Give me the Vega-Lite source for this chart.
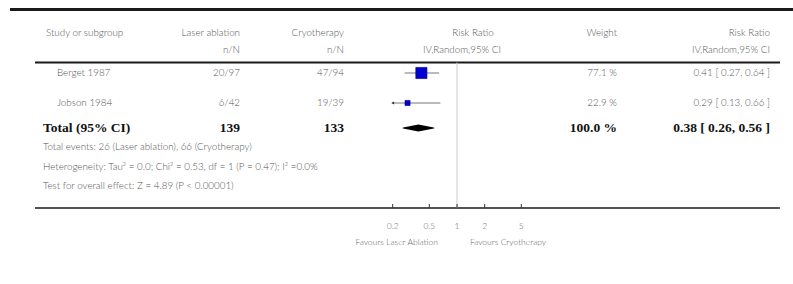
{
  "$schema": "https://vega.github.io/schema/vega-lite/v6.json",
  "width": 793,
  "height": 284,
  "padding": 0,
  "autosize": {"type": "none"},
  "background": "white",
  "config": {"view": {"stroke": null}},
  "datasets": {
    "cells": [
      {"line": 0, "col": 2, "text": "Study or subgroup"},
      {"line": 0, "col": 5, "text": "Laser ablation"},
      {"line": 0, "col": 6, "text": "Cryotherapy"},
      {"line": 0, "col": 8, "text": "Risk Ratio"},
      {"line": 0, "col": 9, "text": "Weight"},
      {"line": 0, "col": 10, "text": "Risk Ratio"},
      {"line": 1, "col": 5, "text": "n/N"},
      {"line": 1, "col": 6, "text": "n/N"},
      {"line": 1, "col": 7, "text": "IV,Random,95% CI"},
      {"line": 1, "col": 10, "text": "IV,Random,95% CI"},
      {"line": 3, "col": 4, "text": "Berget 1987"},
      {"line": 3, "col": 5, "text": "20/97"},
      {"line": 3, "col": 6, "text": "47/94"},
      {"line": 3, "col": 9, "text": "77.1 %"},
      {"line": 3, "col": 10, "text": "0.41 [ 0.27, 0.64 ]"},
      {"line": 4, "col": 4, "text": "Jobson 1984"},
      {"line": 4, "col": 5, "text": "6/42"},
      {"line": 4, "col": 6, "text": "19/39"},
      {"line": 4, "col": 9, "text": "22.9 %"},
      {"line": 4, "col": 10, "text": "0.29 [ 0.13, 0.66 ]"},
      {"line": 5, "col": 3, "text": "Total (95% CI)"},
      {"line": 5, "col": 5, "text": "139"},
      {"line": 5, "col": 6, "text": "133"},
      {"line": 5, "col": 9, "text": "100.0 %"},
      {"line": 5, "col": 10, "text": "0.38 [ 0.26, 0.56 ]"},
      {"line": 6, "col": 3, "text": "Total events: 26 (Laser ablation), 66 (Cryotherapy)"},
      {"line": 7, "col": 3, "text": "Heterogeneity: Tau² = 0.0; Chi² = 0.53, df = 1 (P = 0.47); I² =0.0%"},
      {"line": 8, "col": 3, "text": "Test for overall effect: Z = 4.89 (P < 0.00001)"}
    ],
    "studies": [
      {"line": 3, "study": "Berget 1987", "rr": 0.41, "lo": 0.27, "hi": 0.64, "weight": 77.1},
      {"line": 4, "study": "Jobson 1984", "rr": 0.29, "lo": 0.13, "hi": 0.66, "weight": 22.9}
    ],
    "total": [
      {"line": 5, "study": "Total (95% CI)", "rr": 0.38, "lo": 0.26, "hi": 0.56}
    ],
    "ticks": [
      {"v": 0.2, "label": "0.2"},
      {"v": 0.5, "label": "0.5"},
      {"v": 1, "label": "1"},
      {"v": 2, "label": "2"},
      {"v": 5, "label": "5"}
    ],
    "favours": [
      {"label": "Favours Laser Ablation", "side": "left", "v": 1},
      {"label": "Favours Cryotherapy", "side": "right", "v": 1}
    ],
    "rules": [
      {"rule": "top", "line": -1, "from": 0, "to": 12},
      {"rule": "header", "line": 2, "from": 1, "to": 11},
      {"rule": "bottom", "line": 9, "from": 1, "to": 11}
    ]
  },
  "layer": [
    {
      "data": {"name": "rules"},
      "mark": {"type": "rule", "color": "#1a1a1a"},
      "encoding": {
        "x": {"field": "from", "type": "quantitative", "axis": null,
          "scale": {"type": "linear", "zero": false, "nice": false, "domain": [0,1,2,3,4,5,6,7,8,9,10,11,12], "range": [10,35,46,43,57,240,344,462,473,617,770,780,793]}},
        "x2": {"field": "to"},
        "y": {"field": "line", "type": "quantitative", "axis": null,
          "scale": {"type": "linear", "zero": false, "nice": false, "domain": [-1,0,1,2,3,4,5,6,7,8,9,10,11], "range": [9.5,33,50,62.5,73,103,128,147,167,186,208,226,242]}},
        "strokeWidth": {"field": "rule", "type": "nominal", "legend": null,
          "scale": {"domain": ["top", "header", "bottom"], "range": [3, 1.3, 2]}}
      }
    },
    {
      "data": {"name": "ticks"},
      "transform": [{"filter": "datum.v === 1"}],
      "mark": {"type": "rule", "color": "#cccccc", "strokeWidth": 1},
      "encoding": {
        "x": {"field": "v", "type": "quantitative", "axis": null,
          "scale": {"type": "log", "domain": [0.2, 5], "range": [392.7, 521.3], "nice": false, "clamp": true}},
        "y": {"datum": 2, "type": "quantitative", "axis": null,
          "scale": {"type": "linear", "zero": false, "nice": false, "domain": [-1,0,1,2,3,4,5,6,7,8,9,10,11], "range": [9.5,33,50,62.5,73,103,128,147,167,186,208,226,242]}},
        "y2": {"datum": 9}
      }
    },
    {
      "data": {"name": "studies"},
      "mark": {"type": "rule", "color": "#777777", "strokeWidth": 1},
      "encoding": {
        "x": {"field": "lo", "type": "quantitative", "axis": null,
          "scale": {"type": "log", "domain": [0.2, 5], "range": [392.7, 521.3], "nice": false, "clamp": true}},
        "x2": {"field": "hi"},
        "y": {"field": "line", "type": "quantitative", "axis": null,
          "scale": {"type": "linear", "zero": false, "nice": false, "domain": [-1,0,1,2,3,4,5,6,7,8,9,10,11], "range": [9.5,33,50,62.5,73,103,128,147,167,186,208,226,242]}}
      }
    },
    {
      "data": {"name": "studies"},
      "transform": [{"filter": "datum.lo < 0.2"}],
      "mark": {"type": "point", "shape": "triangle-left", "filled": true, "color": "#333333", "size": 10, "opacity": 1},
      "encoding": {
        "x": {"field": "lo", "type": "quantitative", "axis": null,
          "scale": {"type": "log", "domain": [0.2, 5], "range": [392.7, 521.3], "nice": false, "clamp": true}},
        "y": {"field": "line", "type": "quantitative", "axis": null,
          "scale": {"type": "linear", "zero": false, "nice": false, "domain": [-1,0,1,2,3,4,5,6,7,8,9,10,11], "range": [9.5,33,50,62.5,73,103,128,147,167,186,208,226,242]}}
      }
    },
    {
      "data": {"name": "studies"},
      "mark": {"type": "point", "shape": "square", "filled": true, "color": "#0000d0", "stroke": "#000088", "strokeWidth": 0.6, "opacity": 1},
      "encoding": {
        "x": {"field": "rr", "type": "quantitative", "axis": null,
          "scale": {"type": "log", "domain": [0.2, 5], "range": [392.7, 521.3], "nice": false, "clamp": true}},
        "y": {"field": "line", "type": "quantitative", "axis": null,
          "scale": {"type": "linear", "zero": false, "nice": false, "domain": [-1,0,1,2,3,4,5,6,7,8,9,10,11], "range": [9.5,33,50,62.5,73,103,128,147,167,186,208,226,242]}},
        "size": {"field": "weight", "type": "quantitative", "legend": null,
          "scale": {"type": "linear", "zero": false, "domain": [22.9, 77.1], "range": [26, 125]}}
      }
    },
    {
      "data": {"name": "total"},
      "transform": [{"fold": ["lo", "rr", "hi"], "as": ["k", "v"]}],
      "mark": {"type": "trail", "color": "#000000"},
      "encoding": {
        "x": {"field": "v", "type": "quantitative", "axis": null,
          "scale": {"type": "log", "domain": [0.2, 5], "range": [392.7, 521.3], "nice": false, "clamp": true}},
        "y": {"field": "line", "type": "quantitative", "axis": null,
          "scale": {"type": "linear", "zero": false, "nice": false, "domain": [-1,0,1,2,3,4,5,6,7,8,9,10,11], "range": [9.5,33,50,62.5,73,103,128,147,167,186,208,226,242]}},
        "order": {"field": "v", "type": "quantitative"},
        "size": {"condition": {"test": "datum.k === 'rr'", "value": 7}, "value": 0}
      }
    },
    {
      "data": {"name": "ticks"},
      "mark": {"type": "rule", "color": "#333333", "strokeWidth": 1, "y2Offset": -4},
      "encoding": {
        "x": {"field": "v", "type": "quantitative", "axis": null,
          "scale": {"type": "log", "domain": [0.2, 5], "range": [392.7, 521.3], "nice": false, "clamp": true}},
        "y": {"datum": 9, "type": "quantitative", "axis": null,
          "scale": {"type": "linear", "zero": false, "nice": false, "domain": [-1,0,1,2,3,4,5,6,7,8,9,10,11], "range": [9.5,33,50,62.5,73,103,128,147,167,186,208,226,242]}},
        "y2": {"datum": 9}
      }
    },
    {
      "data": {"name": "ticks"},
      "mark": {"type": "text", "font": "Lato", "fontSize": 8.5, "fontWeight": 300, "color": "#666666", "align": "center", "baseline": "middle"},
      "encoding": {
        "x": {"field": "v", "type": "quantitative", "axis": null,
          "scale": {"type": "log", "domain": [0.2, 5], "range": [392.7, 521.3], "nice": false, "clamp": true}},
        "y": {"datum": 10, "type": "quantitative", "axis": null,
          "scale": {"type": "linear", "zero": false, "nice": false, "domain": [-1,0,1,2,3,4,5,6,7,8,9,10,11], "range": [9.5,33,50,62.5,73,103,128,147,167,186,208,226,242]}},
        "text": {"field": "label"}
      }
    },
    {
      "data": {"name": "favours"},
      "transform": [{"filter": "datum.side === 'left'"}],
      "mark": {"type": "text", "font": "Lato", "fontSize": 8.5, "fontWeight": 300, "color": "#666666", "align": "right", "baseline": "middle", "dx": -19},
      "encoding": {
        "x": {"field": "v", "type": "quantitative", "axis": null,
          "scale": {"type": "log", "domain": [0.2, 5], "range": [392.7, 521.3], "nice": false, "clamp": true}},
        "y": {"datum": 11, "type": "quantitative", "axis": null,
          "scale": {"type": "linear", "zero": false, "nice": false, "domain": [-1,0,1,2,3,4,5,6,7,8,9,10,11], "range": [9.5,33,50,62.5,73,103,128,147,167,186,208,226,242]}},
        "text": {"field": "label"}
      }
    },
    {
      "data": {"name": "favours"},
      "transform": [{"filter": "datum.side === 'right'"}],
      "mark": {"type": "text", "font": "Lato", "fontSize": 8.5, "fontWeight": 300, "color": "#666666", "align": "left", "baseline": "middle", "dx": 13},
      "encoding": {
        "x": {"field": "v", "type": "quantitative", "axis": null,
          "scale": {"type": "log", "domain": [0.2, 5], "range": [392.7, 521.3], "nice": false, "clamp": true}},
        "y": {"datum": 11, "type": "quantitative", "axis": null,
          "scale": {"type": "linear", "zero": false, "nice": false, "domain": [-1,0,1,2,3,4,5,6,7,8,9,10,11], "range": [9.5,33,50,62.5,73,103,128,147,167,186,208,226,242]}},
        "text": {"field": "label"}
      }
    },
    {
      "data": {"name": "cells"},
      "transform": [{"filter": "datum.line !== 5 && datum.col <= 4"}],
      "mark": {"type": "text", "font": "Lato", "fontSize": 9.8, "fontWeight": 300, "color": "#555555", "align": "left", "baseline": "middle"},
      "encoding": {
        "x": {"field": "col", "type": "quantitative", "axis": null,
          "scale": {"type": "linear", "zero": false, "nice": false, "domain": [0,1,2,3,4,5,6,7,8,9,10,11,12], "range": [10,35,46,43,57,240,344,462,473,617,770,780,793]}},
        "y": {"field": "line", "type": "quantitative", "axis": null,
          "scale": {"type": "linear", "zero": false, "nice": false, "domain": [-1,0,1,2,3,4,5,6,7,8,9,10,11], "range": [9.5,33,50,62.5,73,103,128,147,167,186,208,226,242]}},
        "text": {"field": "text"}
      }
    },
    {
      "data": {"name": "cells"},
      "transform": [{"filter": "datum.line !== 5 && (datum.col === 5 || datum.col === 6 || datum.col === 9 || datum.col === 10)"}],
      "mark": {"type": "text", "font": "Lato", "fontSize": 9.8, "fontWeight": 300, "color": "#555555", "align": "right", "baseline": "middle"},
      "encoding": {
        "x": {"field": "col", "type": "quantitative", "axis": null,
          "scale": {"type": "linear", "zero": false, "nice": false, "domain": [0,1,2,3,4,5,6,7,8,9,10,11,12], "range": [10,35,46,43,57,240,344,462,473,617,770,780,793]}},
        "y": {"field": "line", "type": "quantitative", "axis": null,
          "scale": {"type": "linear", "zero": false, "nice": false, "domain": [-1,0,1,2,3,4,5,6,7,8,9,10,11], "range": [9.5,33,50,62.5,73,103,128,147,167,186,208,226,242]}},
        "text": {"field": "text"}
      }
    },
    {
      "data": {"name": "cells"},
      "transform": [{"filter": "datum.col === 7 || datum.col === 8"}],
      "mark": {"type": "text", "font": "Lato", "fontSize": 9.8, "fontWeight": 300, "color": "#555555", "align": "center", "baseline": "middle"},
      "encoding": {
        "x": {"field": "col", "type": "quantitative", "axis": null,
          "scale": {"type": "linear", "zero": false, "nice": false, "domain": [0,1,2,3,4,5,6,7,8,9,10,11,12], "range": [10,35,46,43,57,240,344,462,473,617,770,780,793]}},
        "y": {"field": "line", "type": "quantitative", "axis": null,
          "scale": {"type": "linear", "zero": false, "nice": false, "domain": [-1,0,1,2,3,4,5,6,7,8,9,10,11], "range": [9.5,33,50,62.5,73,103,128,147,167,186,208,226,242]}},
        "text": {"field": "text"}
      }
    },
    {
      "data": {"name": "cells"},
      "transform": [{"filter": "datum.line === 5 && datum.col <= 4"}],
      "mark": {"type": "text", "font": "Liberation Serif", "fontWeight": "bold", "fontSize": 13.5, "color": "#111111", "align": "left", "baseline": "middle"},
      "encoding": {
        "x": {"field": "col", "type": "quantitative", "axis": null,
          "scale": {"type": "linear", "zero": false, "nice": false, "domain": [0,1,2,3,4,5,6,7,8,9,10,11,12], "range": [10,35,46,43,57,240,344,462,473,617,770,780,793]}},
        "y": {"field": "line", "type": "quantitative", "axis": null,
          "scale": {"type": "linear", "zero": false, "nice": false, "domain": [-1,0,1,2,3,4,5,6,7,8,9,10,11], "range": [9.5,33,50,62.5,73,103,128,147,167,186,208,226,242]}},
        "text": {"field": "text"}
      }
    },
    {
      "data": {"name": "cells"},
      "transform": [{"filter": "datum.line === 5 && datum.col >= 5"}],
      "mark": {"type": "text", "font": "Liberation Serif", "fontWeight": "bold", "fontSize": 13.5, "color": "#111111", "align": "right", "baseline": "middle"},
      "encoding": {
        "x": {"field": "col", "type": "quantitative", "axis": null,
          "scale": {"type": "linear", "zero": false, "nice": false, "domain": [0,1,2,3,4,5,6,7,8,9,10,11,12], "range": [10,35,46,43,57,240,344,462,473,617,770,780,793]}},
        "y": {"field": "line", "type": "quantitative", "axis": null,
          "scale": {"type": "linear", "zero": false, "nice": false, "domain": [-1,0,1,2,3,4,5,6,7,8,9,10,11], "range": [9.5,33,50,62.5,73,103,128,147,167,186,208,226,242]}},
        "text": {"field": "text"}
      }
    }
  ],
  "resolve": {"scale": {"x": "independent", "size": "independent"}}
}
